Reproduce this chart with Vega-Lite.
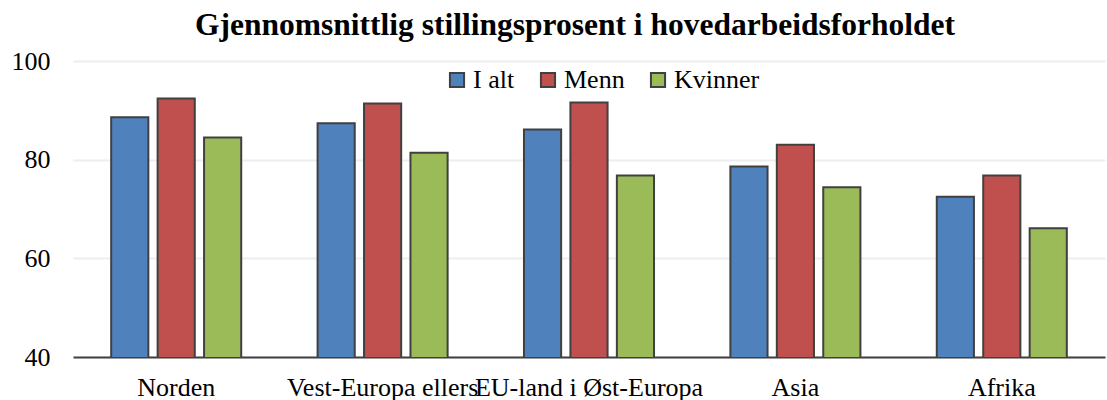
{
  "$schema": "https://vega.github.io/schema/vega-lite/v6.json",
  "autosize": "none",
  "width": 1032,
  "height": 296,
  "padding": {"left": 73, "top": 61, "right": 2, "bottom": 43},
  "background": "white",
  "title": {
    "text": "Gjennomsnittlig stillingsprosent i hovedarbeidsforholdet",
    "font": "Liberation Serif",
    "fontSize": 31.5,
    "fontWeight": "bold",
    "color": "#000000",
    "anchor": "middle",
    "offset": 7,
    "dx": -14
  },
  "config": {
    "view": {"stroke": null}
  },
  "data": {
    "values": [
      {"region": "Norden", "serie": "I alt", "verdi": 88.6},
      {"region": "Norden", "serie": "Menn", "verdi": 92.4},
      {"region": "Norden", "serie": "Kvinner", "verdi": 84.5},
      {"region": "Vest-Europa ellers", "serie": "I alt", "verdi": 87.4},
      {"region": "Vest-Europa ellers", "serie": "Menn", "verdi": 91.4},
      {"region": "Vest-Europa ellers", "serie": "Kvinner", "verdi": 81.4},
      {"region": "EU-land i Øst-Europa", "serie": "I alt", "verdi": 86.1},
      {"region": "EU-land i Øst-Europa", "serie": "Menn", "verdi": 91.6},
      {"region": "EU-land i Øst-Europa", "serie": "Kvinner", "verdi": 76.8},
      {"region": "Asia", "serie": "I alt", "verdi": 78.6},
      {"region": "Asia", "serie": "Menn", "verdi": 83.0},
      {"region": "Asia", "serie": "Kvinner", "verdi": 74.4},
      {"region": "Afrika", "serie": "I alt", "verdi": 72.5},
      {"region": "Afrika", "serie": "Menn", "verdi": 76.8},
      {"region": "Afrika", "serie": "Kvinner", "verdi": 66.1}
    ]
  },
  "mark": {"type": "bar", "stroke": "#404040", "strokeWidth": 2, "clip": true},
  "encoding": {
    "x": {
      "field": "region",
      "type": "nominal",
      "sort": ["Norden", "Vest-Europa ellers", "EU-land i Øst-Europa", "Asia", "Afrika"],
      "scale": {"paddingInner": 0.37, "paddingOuter": 0.185},
      "axis": {
        "title": null,
        "labelAngle": 0,
        "labelFont": "Liberation Serif",
        "labelFontSize": 26,
        "labelColor": "#000000",
        "labelPadding": 17,
        "ticks": false,
        "domainColor": "#404040",
        "domainWidth": 2,
        "labelOverlap": false,
        "labelLimit": 0
      }
    },
    "xOffset": {
      "field": "serie",
      "type": "nominal",
      "sort": ["I alt", "Menn", "Kvinner"],
      "scale": {"paddingInner": 0.2, "paddingOuter": 0}
    },
    "y": {
      "field": "verdi",
      "type": "quantitative",
      "scale": {"domain": [40, 100], "nice": false, "zero": false},
      "axis": {
        "title": null,
        "values": [40, 60, 80, 100],
        "labelFont": "Liberation Serif",
        "labelFontSize": 26,
        "labelColor": "#000000",
        "labelPadding": 23,
        "ticks": false,
        "domain": false,
        "gridColor": "#eeeeee",
        "gridWidth": 2
      }
    },
    "color": {
      "field": "serie",
      "type": "nominal",
      "sort": ["I alt", "Menn", "Kvinner"],
      "scale": {"domain": ["I alt", "Menn", "Kvinner"], "range": ["#4F81BD", "#C0504D", "#9BBB59"]},
      "legend": {
        "title": null,
        "orient": "none",
        "legendX": 371,
        "legendY": 6,
        "direction": "horizontal",
        "columns": 3,
        "symbolType": "square",
        "symbolSize": 200,
        "symbolStrokeColor": "#404040",
        "symbolStrokeWidth": 2,
        "labelFont": "Liberation Serif",
        "labelFontSize": 26,
        "labelColor": "#000000",
        "labelOffset": 3,
        "columnPadding": 20
      }
    }
  }
}
